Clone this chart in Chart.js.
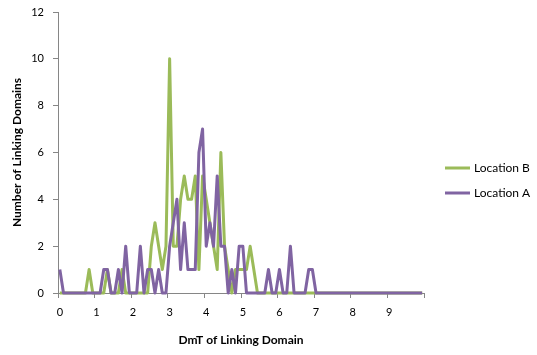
<!DOCTYPE html>
<html>
<head>
<meta charset="utf-8">
<script src="https://cdn.jsdelivr.net/npm/chart.js@4.4.1/dist/chart.umd.min.js"></script>
<style>
  html, body { margin: 0; padding: 0; background: #ffffff; }
  #wrap { width: 537px; height: 355px; }
</style>
</head>
<body>
<div id="wrap"><canvas id="c" width="537" height="355"></canvas></div>
<script>
const categories = [
  "0.0","0.1","0.2","0.3","0.4","0.5","0.6","0.7","0.8","0.9",
  "1.0","1.1","1.2","1.3","1.4","1.5","1.6","1.7","1.8","1.9",
  "2.0","2.1","2.2","2.3","2.4","2.5","2.6","2.7","2.8","2.9",
  "3.0","3.1","3.2","3.3","3.4","3.5","3.6","3.7","3.8","3.9",
  "4.0","4.1","4.2","4.3","4.4","4.5","4.6","4.7","4.8","4.9",
  "5.0","5.1","5.2","5.3","5.4","5.5","5.6","5.7","5.8","5.9",
  "6.0","6.1","6.2","6.3","6.4","6.5","6.6","6.7","6.8","6.9",
  "7.0","7.1","7.2","7.3","7.4","7.5","7.6","7.7","7.8","7.9",
  "8.0","8.1","8.2","8.3","8.4","8.5","8.6","8.7","8.8","8.9",
  "9.0","9.1","9.2","9.3","9.4","9.5","9.6","9.7","9.8","9.9"
];
const xTickLabels = ["0","1","2","3","4","5","6","7","8","9"];
const yTickValues = [0, 2, 4, 6, 8, 10, 12];

const locationB = [
  0,0,0,0,0,0,0,0,1,0,
  0,0,0,1,0,0,0,1,0,0,
  0,0,0,0,0,2,3,2,1,2,
  10,2,2,4,5,4,4,5,1,5,
  4,3,2,1,6,2,1,0,1,1,
  1,1,2,1,0,0,0,0,0,0,
  0,0,0,0,0,0,0,0,0,0,
  0,0,0,0,0,0,0,0,0,0,
  0,0,0,0,0,0,0,0,0,0,
  0,0,0,0,0,0,0,0,0,0
];
const locationA = [
  1,0,0,0,0,0,0,0,0,0,
  0,0,1,1,0,0,1,0,2,0,
  0,0,2,0,1,1,0,1,0,0,
  2,3,4,1,3,1,1,1,6,7,
  2,3,2,5,2,2,0,1,0,2,
  2,0,0,0,0,0,0,1,0,0,
  1,0,0,2,0,0,0,0,1,1,
  0,0,0,0,0,0,0,0,0,0,
  0,0,0,0,0,0,0,0,0,0,
  0,0,0,0,0,0,0,0,0,0
];

const FONT = 'Lato';
const AXIS = '#868686';

const legendPlugin = {
  id: 'sideLegend',
  afterDraw(chart) {
    const ctx = chart.ctx;
    const order = [1, 0];
    const rows = [168, 193];
    ctx.save();
    order.forEach((di, k) => {
      const ds = chart.data.datasets[di];
      const y = rows[k];
      ctx.strokeStyle = ds.borderColor;
      ctx.lineWidth = 3;
      ctx.lineCap = 'butt';
      ctx.beginPath();
      ctx.moveTo(445, y);
      ctx.lineTo(470, y);
      ctx.stroke();
      ctx.fillStyle = '#000';
      ctx.font = '12px ' + FONT;
      ctx.textBaseline = 'middle';
      ctx.textAlign = 'left';
      ctx.fillText(ds.label, 474, y);
    });
    ctx.restore();
  }
};

new Chart(document.getElementById('c'), {
  type: 'line',
  data: {
    labels: categories,
    datasets: [
      { label: 'Location A', data: locationA, borderColor: '#8064A2', backgroundColor: '#8064A2',
        borderWidth: 3, borderJoinStyle: 'round', pointRadius: 0, tension: 0, fill: false, clip: false },
      { label: 'Location B', data: locationB, borderColor: '#9BBB59', backgroundColor: '#9BBB59',
        borderWidth: 3, borderJoinStyle: 'round', pointRadius: 0, tension: 0, fill: false, clip: false }
    ]
  },
  options: {
    responsive: false,
    animation: false,
    devicePixelRatio: 1,
    layout: { padding: { top: 12, right: 113, left: 0, bottom: 0 } },
    plugins: { legend: { display: false }, tooltip: { enabled: false } },
    scales: {
      x: {
        offset: true,
        grid: {
          offset: true,
          drawOnChartArea: false,
          drawTicks: true,
          tickLength: 5,
          tickColor: (ctx) => (ctx.index === undefined || ctx.index % 10 === 0) ? AXIS : 'rgba(0,0,0,0)'
        },
        border: { color: AXIS, width: 1 },
        ticks: {
          autoSkip: false, maxRotation: 0, minRotation: 0, padding: 8,
          color: '#000', font: { family: FONT, size: 11 },
          callback: (v, i) => (i % 10 === 0 ? xTickLabels[i / 10] : '')
        },
        title: {
          display: true, text: 'DmT of Linking Domain', color: '#000',
          font: { family: FONT, size: 12, weight: 'bold' },
          padding: { top: 0, bottom: 8 }
        },
        afterFit: (s) => { s.height = 62; s.paddingLeft = 0; s.paddingRight = 0; }
      },
      y: {
        min: 0, max: 12,
        afterBuildTicks: (s) => { s.ticks = yTickValues.map(v => ({ value: v })); },
        grid: { drawOnChartArea: false, drawTicks: true, tickLength: 5, color: AXIS },
        border: { color: AXIS, width: 1 },
        ticks: { padding: 9, color: '#000', font: { family: FONT, size: 11 } },
        title: {
          display: true, text: 'Number of Linking Domains', color: '#000',
          font: { family: FONT, size: 12, weight: 'bold' },
          padding: { top: 10, bottom: 0 }
        },
        afterFit: (s) => { s.width = 58; s.paddingTop = 0; s.paddingBottom = 0; }
      }
    }
  },
  plugins: [legendPlugin]
});
</script>
</body>
</html>
